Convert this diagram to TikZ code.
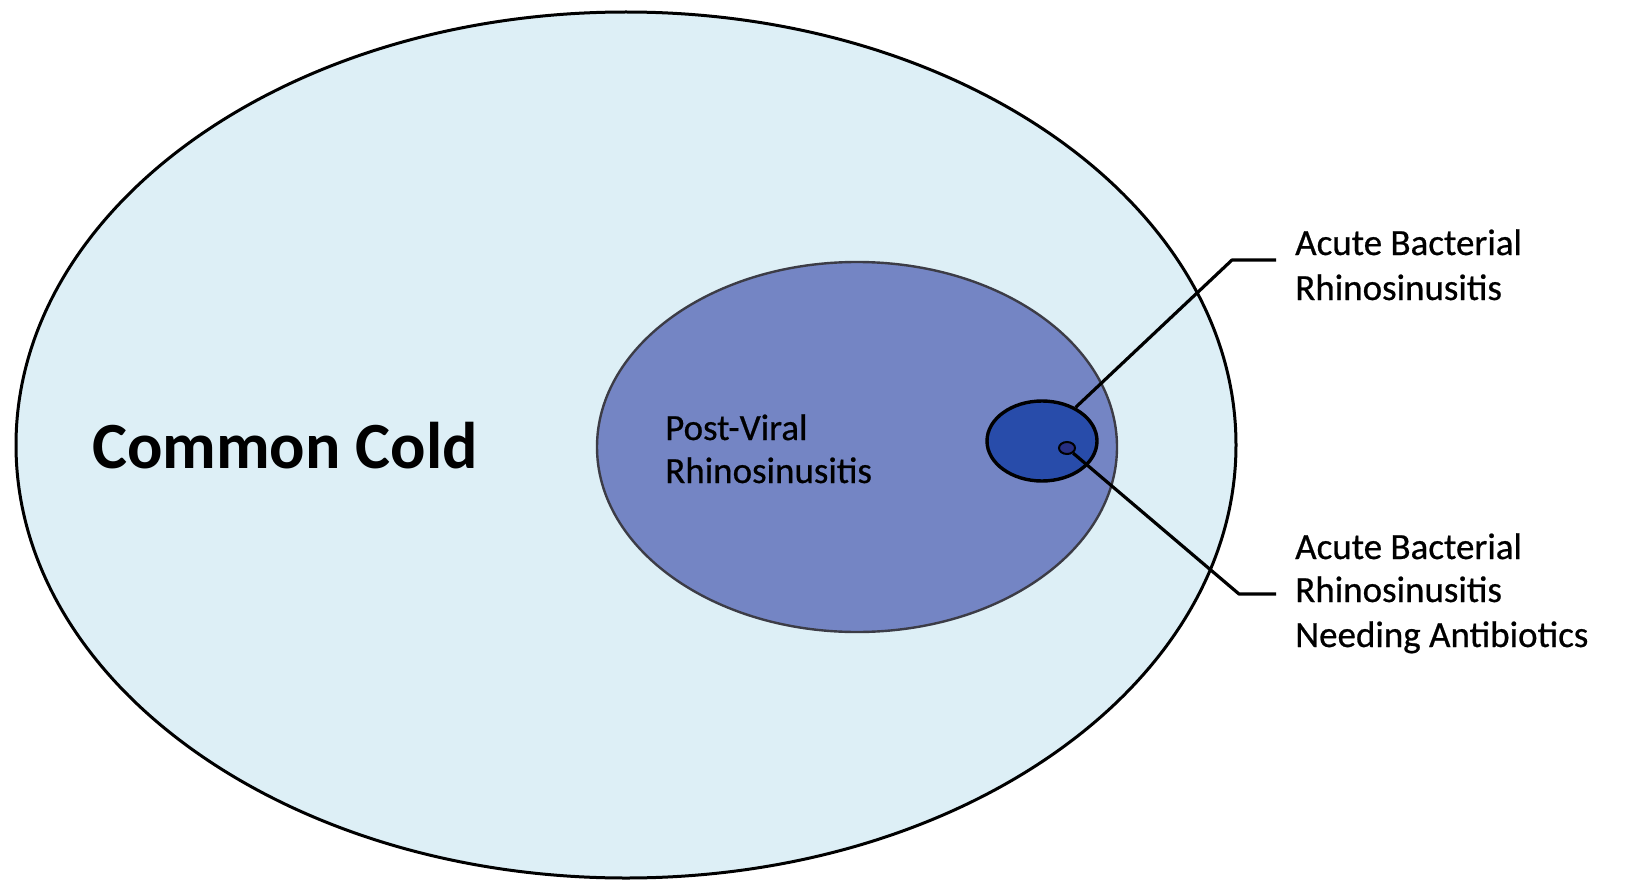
\documentclass[tikz,border=0pt]{standalone}
\usepackage{fontspec}
\setmainfont{Carlito}
\usetikzlibrary{shapes.geometric}
\definecolor{coldfill}{RGB}{221,239,246}
\definecolor{pvfill}{RGB}{116,133,196}
\definecolor{abfill}{RGB}{40,76,170}
\definecolor{tinyfill}{RGB}{38,46,130}
\definecolor{pvline}{RGB}{60,60,70}
\tikzset{
  oval/.style={ellipse, inner sep=0pt, draw=black},
  lbl/.style={anchor=base west, inner sep=0pt, font=\addfontfeature{FakeBold=0.6}\fontsize{37}{40}\selectfont},
  leader/.style={draw=black, line width=3.2pt, line join=round}
}
\begin{document}
\begin{tikzpicture}[x=1pt,y=-1pt]
\useasboundingbox[fill=white] (0,0) rectangle (1633,880);
\node[oval, fill=coldfill, line width=3pt, minimum width=1220pt, minimum height=866pt] (cold) at (626,445) {};
\node[oval, fill=pvfill, draw=pvline, line width=2.4pt, minimum width=520pt, minimum height=370pt] (pv) at (857,447) {};
\node[oval, fill=abfill, line width=3.4pt, minimum width=110pt, minimum height=80pt] (ab) at (1042,441) {};
\node[oval, fill=tinyfill, line width=2pt, minimum width=16pt, minimum height=12pt] (tiny) at (1067,448) {};
\node[anchor=base west, inner sep=0pt, font=\bfseries\fontsize{66}{70}\selectfont] (cc) at (92,468) {Common Cold};
\node[lbl] (pv1) at (665,440) {Post-Viral};
\node[lbl] (pv2) at (665,483) {Rhinosinusitis};
\node[lbl] (a1) at (1295,255) {Acute Bacterial};
\node[lbl] (a2) at (1295,300) {Rhinosinusitis};
\node[lbl] (b1) at (1295,559) {Acute Bacterial};
\node[lbl] (b2) at (1295,602) {Rhinosinusitis};
\node[lbl] (b3) at (1295,647) {Needing Antibiotics};
\coordinate (ka) at (1232,260);
\coordinate (ea) at (1276,260);
\coordinate (kb) at (1239,594);
\coordinate (eb) at (1276,594);
\draw[leader] (ab.45) -- (ka) -- (ea);
\draw[leader] (tiny.-40) -- (kb) -- (eb);
\end{tikzpicture}
\end{document}
